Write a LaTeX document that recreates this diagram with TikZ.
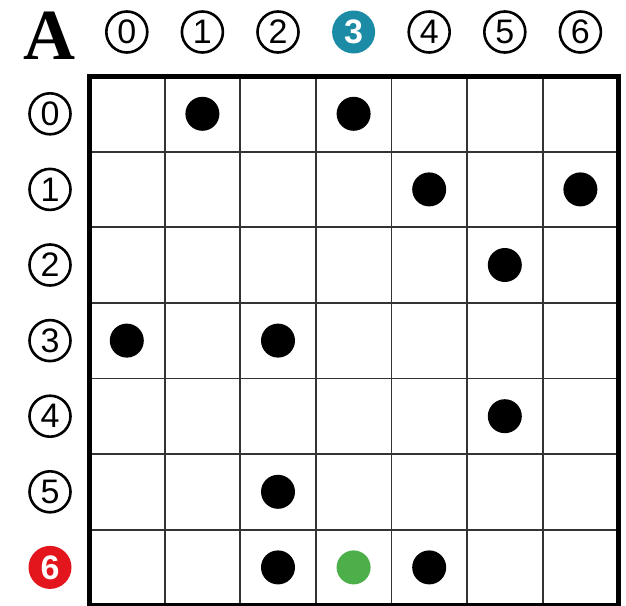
\documentclass[tikz,border=0pt]{standalone}
\usepackage{fontspec}
\setmainfont{Liberation Sans}
\newfontfamily\titlefont{Liberation Serif}
\definecolor{tealc}{HTML}{1B8BA6}
\definecolor{redc}{HTML}{E3161E}
\definecolor{greenc}{HTML}{4DAF4A}
\begin{document}
\begin{tikzpicture}[x=1pt,y=-1pt,
  lab/.style={circle,draw=black,line width=2.6pt,minimum size=41pt,inner sep=0pt,font=\fontsize{34}{34}\selectfont},
  labfill/.style={circle,fill=#1,minimum size=43pt,inner sep=0pt,text=white,font=\fontsize{34}{34}\selectfont\bfseries},
  dot/.style={circle,fill=black,minimum size=34pt,inner sep=0pt},
  gdot/.style={circle,fill=greenc,minimum size=34pt,inner sep=0pt},
  gridline/.style={black!80,line width=1.8pt},
  border/.style={black,line width=5pt}]
\useasboundingbox (0,0) rectangle (626,605);
\fill[white] (0,0) rectangle (626,605);
\def\xo{89}\def\yo{76}\def\cs{75.6}
% grid lines
\foreach \i in {1,...,6}{
  \draw[gridline] ({\xo+\i*\cs},\yo) -- ({\xo+\i*\cs},{\yo+7*\cs});
  \draw[gridline] (\xo,{\yo+\i*\cs}) -- ({\xo+7*\cs},{\yo+\i*\cs});
}
\draw[border] (\xo,\yo) rectangle ({\xo+7*\cs},{\yo+7*\cs});
% title
\node[font=\titlefont\bfseries\fontsize{72}{72}\selectfont,inner sep=0pt] (title) at (49,36) {A};
% column labels
\foreach \c in {0,1,2,4,5,6}{
  \node[lab] (col\c) at ({\xo+(\c+0.5)*\cs},32) {\c};
}
\node[labfill=tealc] (col3) at ({\xo+3.5*\cs},32) {3};
% row labels
\foreach \r in {0,...,5}{
  \node[lab] (row\r) at (50,{\yo+(\r+0.5)*\cs}) {\r};
}
\node[labfill=redc] (row6) at (50,{\yo+6.5*\cs}) {6};
% dots
\foreach \r/\c in {0/1,0/3,1/4,1/6,2/5,3/0,3/2,4/5,5/2,6/2,6/4}{
  \node[dot] (d\r\c) at ({\xo+(\c+0.5)*\cs},{\yo+(\r+0.5)*\cs}) {};
}
\node[gdot] (d63) at ({\xo+3.5*\cs},{\yo+6.5*\cs}) {};
\end{tikzpicture}
\end{document}
